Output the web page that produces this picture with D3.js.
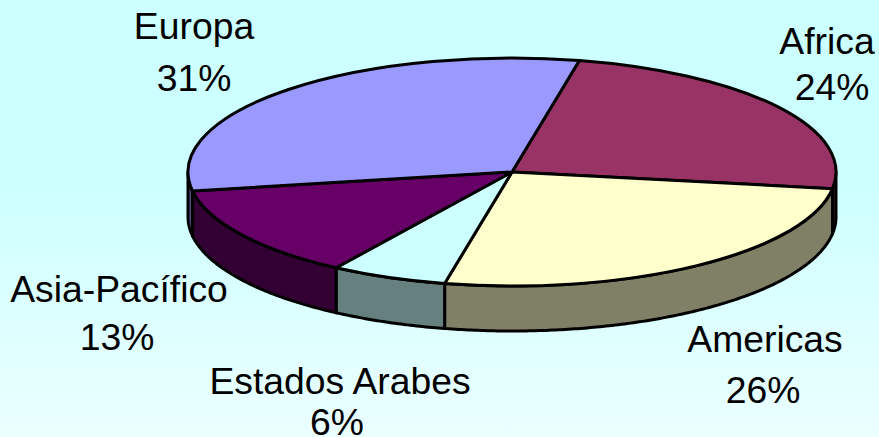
<!DOCTYPE html>
<html>
<head>
<meta charset="utf-8">
<script src="https://cdn.jsdelivr.net/npm/d3@7"></script>
<style>
    html, body { margin: 0; padding: 0; overflow: hidden; }
    text { font-family: "Liberation Sans", Arial, sans-serif; fill: #000; }
</style>
</head>
<body>
<div id="chart"></div>
<script>
const categories = ["Africa", "Americas", "Estados Arabes", "Asia-Pacífico", "Europa"];
const shares = [24, 26, 5.8, 13.2, 31];
const topColors = ["#993366", "#FFFFCC", "#CCFFFF", "#660066", "#9999FF"];
const sideColors = ["#4D1933", "#808066", "#668080", "#330033", "#4D4D80"];

const width = 879, height = 437;
const cx = 512, cy = 172, rx = 324, ry = 114, depth = 45;
const startDeg = 12;
// label name position and percent position, same order as categories
const labelPos = [
    { x: 827, y: 54, px: 832, py: 100 },
    { x: 765, y: 352, px: 763, py: 403 },
    { x: 340, y: 394, px: 337, py: 435 },
    { x: 119, y: 302, px: 117, py: 350 },
    { x: 194, y: 39, px: 194, py: 91 }
];

const svg = d3.select("#chart").append("svg")
    .attr("width", width)
    .attr("height", height)
    .style("display", "block");

// Background
const grad = svg.append("defs").append("linearGradient")
    .attr("id", "bg")
    .attr("x1", 0).attr("y1", 0).attr("x2", 0).attr("y2", 1);
grad.append("stop").attr("offset", "0%").attr("stop-color", "#CCFFFF");
grad.append("stop").attr("offset", "40%").attr("stop-color", "#CCFFFF");
grad.append("stop").attr("offset", "100%").attr("stop-color", "#EBFFFF");
svg.append("rect").attr("width", width).attr("height", height).attr("fill", "url(#bg)");

const pie = d3.pie()
    .sort(null)
    .startAngle(startDeg * Math.PI / 180)
    .endAngle((startDeg + 360) * Math.PI / 180);
const arcs = pie(shares);

// Side walls, only the part of the rim facing the viewer (90 to 270 deg)
const xPos = d3.scaleLinear().domain([-1, 1]).range([cx - rx, cx + rx]);
const yPos = d3.scaleLinear().domain([-1, 1]).range([cy - ry, cy + ry]);
const rim = d3.line().x(d => xPos(Math.sin(d[0]))).y(d => yPos(-Math.cos(d[0])) + d[1]);
const sides = svg.append("g");

arcs.forEach((a, i) => {
    const turn = 2 * Math.PI;
    [0, turn].forEach(shift => {
        const a0 = Math.max(a.startAngle - shift, Math.PI / 2);
        const a1 = Math.min(a.endAngle - shift, 3 * Math.PI / 2);
        if (a1 <= a0) return;
        const steps = d3.range(a0, a1, 0.01).concat([a1]);
        const outline = steps.map(t => [t, 0]).concat(steps.slice().reverse().map(t => [t, depth]));
        sides.append("path")
            .attr("d", rim(outline) + "Z")
            .attr("fill", sideColors[i])
            .attr("stroke", "#000")
            .attr("stroke-width", 3)
            .attr("stroke-linejoin", "round");
    });
});

// Top face, a flat circle squashed into an ellipse
const arc = d3.arc().innerRadius(0).outerRadius(rx);
svg.append("g")
    .attr("transform", `translate(${cx},${cy}) scale(1,${ry / rx})`)
    .selectAll("path")
    .data(arcs)
    .enter()
    .append("path")
    .attr("d", arc)
    .attr("fill", (d, i) => topColors[i])
    .attr("stroke", "#000")
    .attr("stroke-width", 3)
    .attr("stroke-linejoin", "round")
    .attr("vector-effect", "non-scaling-stroke");

// Labels
const labels = svg.append("g").attr("font-size", 37.3).attr("text-anchor", "middle");
categories.forEach((name, i) => {
    labels.append("text").attr("x", labelPos[i].x).attr("y", labelPos[i].y).text(name);
    labels.append("text").attr("x", labelPos[i].px).attr("y", labelPos[i].py).text(Math.round(shares[i]) + "%");
});
</script>
</body>
</html>
